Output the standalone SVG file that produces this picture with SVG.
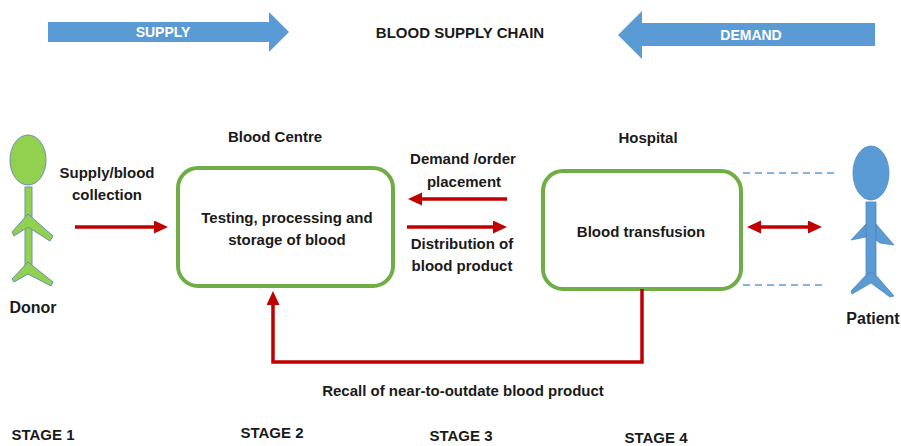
<svg xmlns="http://www.w3.org/2000/svg" width="901" height="446" viewBox="0 0 901 446">
<defs>
<style>
.t{font-family:"Liberation Sans",Arial,sans-serif;font-weight:bold;fill:#1a1a1a;text-anchor:middle;dominant-baseline:central}
.w{fill:#ffffff}
.box{fill:#ffffff;stroke:#70AD47;stroke-width:4}
.red{fill:none;stroke:#C00000;stroke-width:3.5}
.blue{fill:#5B9BD5}
.dash{stroke:#5B9BD5;stroke-width:1.5;stroke-dasharray:7 5;fill:none}
.don{fill:#92D050;stroke:#6A8FB0;stroke-width:1}
.pat{fill:#5B9BD5;stroke:#4F86BB;stroke-width:0.8}
</style>
<marker id="ah" markerUnits="userSpaceOnUse" markerWidth="16" markerHeight="14" refX="2" refY="6.5" orient="auto-start-reverse">
<path d="M0,0 L14,6.5 L0,13 z" fill="#C00000"/>
</marker>
</defs>
<rect width="901" height="446" fill="#ffffff"/>

<g id="supply-arrow">
<polygon class="blue" points="48,22 269,22 269,12 289,32 269,52 269,42 48,42"/>
<text class="t w" x="163" y="32" font-size="14">SUPPLY</text>
</g>
<g id="title">
<text class="t" x="460" y="32" font-size="15">BLOOD SUPPLY CHAIN</text>
</g>
<g id="demand-arrow">
<polygon class="blue" points="618,35 642,11 642,23 875,23 875,46 642,46 642,59"/>
<text class="t w" x="751" y="35" font-size="14">DEMAND</text>
</g>

<g id="donor">
<ellipse class="don" cx="28" cy="160" rx="18" ry="25"/>
<rect class="don" x="25" y="187" width="7" height="86"/>
<polygon class="don" points="28,214 53,236 50,241 28,227 14,236 12,232"/>
<polygon class="don" points="28,262 53,282 51,286 28,274 14,282 12,279"/>
<text class="t" x="33" y="307" font-size="16">Donor</text>
</g>

<g id="patient">
<ellipse class="pat" cx="871" cy="173" rx="18" ry="27"/>
<rect class="pat" x="866" y="202" width="10" height="73"/>
<polygon class="pat" points="866,224 851,240 866,237"/>
<polygon class="pat" points="876,224 894,245 880,243 876,240"/>
<polygon class="pat" points="868,273 874,273 894,296 890,297 871,283 852,294 851,291"/>
<text class="t" x="873" y="318" font-size="16">Patient</text>
</g>

<g id="blood-centre">
<text class="t" x="275" y="136" font-size="15">Blood Centre</text>
<rect class="box" x="178" y="168" width="215" height="118" rx="20"/>
<text class="t" x="287" y="217" font-size="15">Testing, processing and</text>
<text class="t" x="287" y="239" font-size="15">storage of blood</text>
</g>

<g id="hospital">
<text class="t" x="648" y="137" font-size="15">Hospital</text>
<rect class="box" x="543" y="171" width="198" height="118" rx="20"/>
<text class="t" x="641" y="231" font-size="15">Blood transfusion</text>
</g>

<g id="connectors">
<line class="red" x1="75" y1="227" x2="156" y2="227" marker-end="url(#ah)"/>
<line class="red" x1="507" y1="199" x2="420" y2="199" marker-end="url(#ah)"/>
<line class="red" x1="407" y1="227" x2="495" y2="227" marker-end="url(#ah)"/>
<line class="red" x1="759" y1="227" x2="810" y2="227" marker-start="url(#ah)" marker-end="url(#ah)"/>
<path class="red" d="M642,289 V362 H273 V303" marker-end="url(#ah)"/>
<line class="dash" x1="743" y1="173" x2="835" y2="173"/>
<line class="dash" x1="743" y1="285" x2="827" y2="285"/>
</g>

<g id="labels">
<text class="t" x="107" y="172" font-size="15">Supply/blood</text>
<text class="t" x="107" y="194" font-size="15">collection</text>
<text class="t" x="463" y="158" font-size="15">Demand /order</text>
<text class="t" x="464" y="181" font-size="15">placement</text>
<text class="t" x="462" y="243" font-size="15">Distribution of</text>
<text class="t" x="462" y="265" font-size="15">blood product</text>
<text class="t" x="463" y="390" font-size="15">Recall of near-to-outdate blood product</text>
<text class="t" x="43" y="434" font-size="15">STAGE 1</text>
<text class="t" x="272" y="432" font-size="15">STAGE 2</text>
<text class="t" x="461" y="435" font-size="15">STAGE 3</text>
<text class="t" x="656" y="437" font-size="15">STAGE 4</text>
</g>
</svg>
